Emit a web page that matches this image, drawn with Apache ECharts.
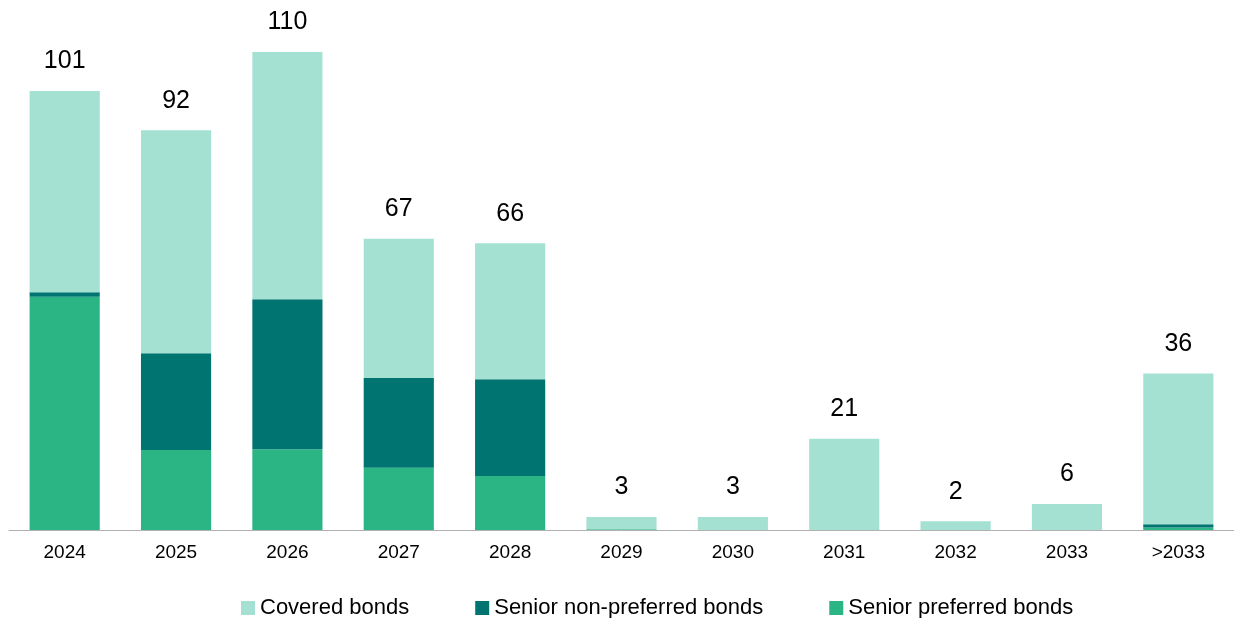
<!DOCTYPE html>
<html>
<head>
<meta charset="utf-8">
<script src="https://cdn.jsdelivr.net/npm/echarts@6/dist/echarts.min.js"></script>
<style>
  html, body { margin: 0; padding: 0; background: #fff; }
  #chart { width: 1234px; height: 618px; }
</style>
</head>
<body>
<div id="chart"></div>
<script>
const categories = ["2024", "2025", "2026", "2027", "2028", "2029", "2030", "2031", "2032", "2033", ">2033"];
// senior preferred at the bottom, then non-preferred, covered on top
const seniorPreferred = [53.7, 18.4, 18.6, 14.3, 12.4, 0.2, 0, 0, 0, 0, 0.6];
const seniorNonPreferred = [1.0, 22.3, 34.5, 20.7, 22.3, 0, 0, 0, 0, 0, 0.7];
const covered = [46.3, 51.3, 56.9, 32.0, 31.3, 2.8, 3, 21, 2, 6, 34.7];
const totals = [101, 92, 110, 67, 66, 3, 3, 21, 2, 6, 36];

const font = "Liberation Sans, Arial, sans-serif";
let chart = echarts.init(document.getElementById("chart"), null, { renderer: "canvas" });

let option = {
    animation: false,
    grid: {
        left: 9,
        width: 1229,
        top: 52,
        height: 478,
        containLabel: false,
    },
    legend: {
        left: 236,
        top: 592,
        itemWidth: 14,
        itemHeight: 14,
        itemGap: 66,
        icon: "rect",
        textStyle: {
            fontFamily: font,
            fontSize: 22,
            color: "#000",
        },
        data: ["Covered bonds", "Senior non-preferred bonds", "Senior preferred bonds"],
    },
    xAxis: {
        type: "category",
        data: categories,
        axisTick: { show: false },
        axisLine: { lineStyle: { color: "#b0b0b0", width: 1 } },
        axisLabel: {
            fontFamily: font,
            fontSize: 19,
            color: "#000",
            margin: 13,
        },
    },
    yAxis: {
        type: "value",
        min: 0,
        max: 110,
        show: false,
        splitLine: { show: false },
    },
    series: [
        {
            name: "Senior preferred bonds",
            type: "bar",
            stack: "total",
            barWidth: "63%",
            data: seniorPreferred,
            itemStyle: { color: "#2bb584" },
        },
        {
            name: "Senior non-preferred bonds",
            type: "bar",
            stack: "total",
            data: seniorNonPreferred,
            itemStyle: { color: "#007470" },
        },
        {
            name: "Covered bonds",
            type: "bar",
            stack: "total",
            data: covered,
            itemStyle: { color: "#a5e1d2" },
            label: {
                show: true,
                position: "top",
                distance: 17,
                fontFamily: font,
                fontSize: 25,
                color: "#000",
                formatter: (p) => totals[p.dataIndex],
            },
        },
    ],
};
chart.setOption(option);
</script>
</body>
</html>
